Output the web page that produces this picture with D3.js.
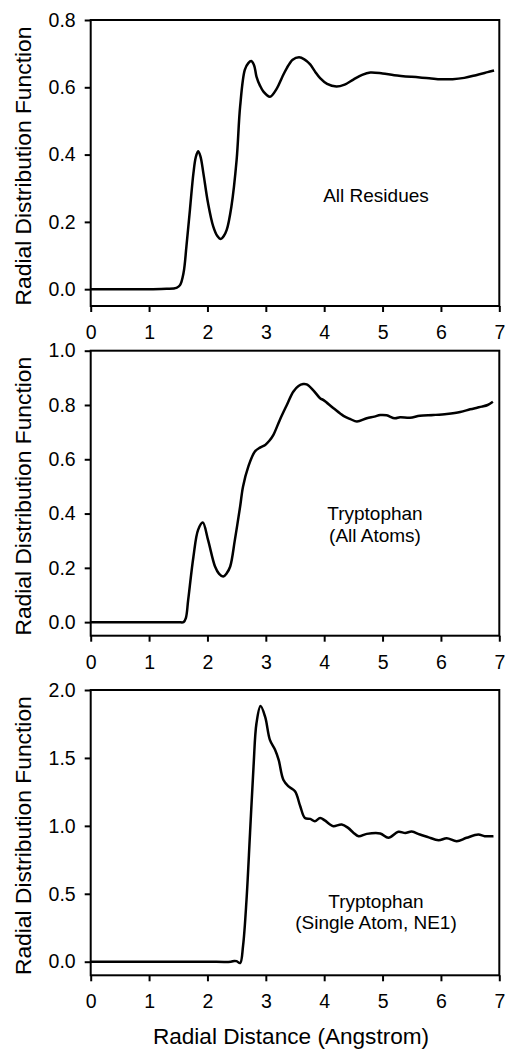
<!DOCTYPE html>
<html>
<head>
<meta charset="utf-8">
<script src="https://cdn.jsdelivr.net/npm/d3@7"></script>
<style>
  html, body { margin: 0; padding: 0; background: #fff; }
  svg { display: block; }
  text { font-family: "Liberation Sans", Arial, sans-serif; fill: #000; }
</style>
</head>
<body>
<svg id="chart" width="508" height="1051"></svg>
<script>
// ---------- Data ----------
const xTicks = [0, 1, 2, 3, 4, 5, 6, 7];
const yTitle = "Radial Distribution Function";
const xTitle = "Radial Distance (Angstrom)";

// Panel 1: All Residues
const allResX = [0, 0.5, 1.0, 1.3, 1.47, 1.53, 1.59, 1.64, 1.70, 1.76, 1.80, 1.84, 1.88, 1.93, 2.01, 2.10, 2.17, 2.23, 2.28, 2.33, 2.41, 2.50, 2.56, 2.64, 2.70, 2.75, 2.80, 2.84, 2.90, 2.96, 3.07, 3.19, 3.28, 3.36, 3.46, 3.57, 3.66, 3.76, 3.85, 3.93, 4.05, 4.21, 4.35, 4.50, 4.65, 4.79, 5.0, 5.2, 5.5, 5.8, 6.0, 6.2, 6.4, 6.6, 6.8, 6.91];
const allResY = [0, 0, 0, 0.001, 0.004, 0.012, 0.048, 0.127, 0.236, 0.345, 0.392, 0.410, 0.395, 0.345, 0.256, 0.186, 0.158, 0.149, 0.158, 0.176, 0.245, 0.384, 0.543, 0.652, 0.672, 0.678, 0.665, 0.632, 0.605, 0.587, 0.572, 0.597, 0.630, 0.657, 0.682, 0.689, 0.683, 0.668, 0.645, 0.627, 0.610, 0.602, 0.608, 0.623, 0.637, 0.644, 0.641, 0.636, 0.631, 0.627, 0.624, 0.624, 0.628, 0.636, 0.645, 0.650];

// Panel 2: Tryptophan (All Atoms)
const trpAllX = [0, 0.5, 1.0, 1.5, 1.59, 1.63, 1.67, 1.76, 1.84, 1.92, 2.01, 2.13, 2.20, 2.27, 2.33, 2.39, 2.47, 2.56, 2.61, 2.70, 2.81, 2.90, 2.99, 3.06, 3.13, 3.24, 3.36, 3.47, 3.56, 3.64, 3.70, 3.81, 3.93, 3.99, 4.16, 4.33, 4.45, 4.56, 4.73, 4.86, 4.96, 5.07, 5.21, 5.30, 5.47, 5.64, 5.87, 6.10, 6.33, 6.50, 6.62, 6.70, 6.80, 6.89];
const trpAllY = [0, 0, 0, 0, 0, 0.015, 0.082, 0.241, 0.340, 0.367, 0.303, 0.205, 0.178, 0.168, 0.180, 0.205, 0.303, 0.426, 0.500, 0.573, 0.628, 0.643, 0.653, 0.668, 0.690, 0.745, 0.800, 0.849, 0.870, 0.877, 0.876, 0.855, 0.825, 0.818, 0.788, 0.760, 0.748, 0.739, 0.751, 0.757, 0.763, 0.762, 0.751, 0.755, 0.753, 0.760, 0.763, 0.767, 0.774, 0.784, 0.790, 0.794, 0.800, 0.812];

// Panel 3: Tryptophan (Single Atom, NE1)
const trpNeX = [0, 0.5, 1.0, 1.5, 2.0, 2.40, 2.46, 2.50, 2.56, 2.61, 2.67, 2.73, 2.79, 2.84, 2.91, 2.99, 3.07, 3.16, 3.22, 3.30, 3.39, 3.50, 3.59, 3.67, 3.76, 3.84, 3.93, 4.01, 4.10, 4.16, 4.30, 4.41, 4.50, 4.59, 4.73, 4.96, 5.10, 5.27, 5.39, 5.50, 5.64, 5.78, 5.96, 6.10, 6.27, 6.44, 6.64, 6.75, 6.90];
const trpNeY = [0, 0, 0, 0, 0, 0, 0.006, 0.004, -0.010, 0.117, 0.460, 0.950, 1.440, 1.755, 1.882, 1.800, 1.633, 1.559, 1.486, 1.340, 1.290, 1.254, 1.144, 1.058, 1.051, 1.034, 1.058, 1.040, 1.010, 0.997, 1.010, 0.985, 0.950, 0.924, 0.941, 0.944, 0.912, 0.956, 0.948, 0.958, 0.936, 0.917, 0.894, 0.909, 0.887, 0.912, 0.936, 0.924, 0.924];

const panels = [
  { xs: allResX, ys: allResY, domain: [-0.05, 0.8], ticks: [0, 0.2, 0.4, 0.6, 0.8], fmt: ".1f",
    top: 20, bottom: 306, label: ["All Residues"], lx: 376, ly: [202] },
  { xs: trpAllX, ys: trpAllY, domain: [-0.05, 1.0], ticks: [0, 0.2, 0.4, 0.6, 0.8, 1.0], fmt: ".1f",
    top: 350.7, bottom: 635.7, label: ["Tryptophan", "(All Atoms)"], lx: 375, ly: [520, 542] },
  { xs: trpNeX, ys: trpNeY, domain: [-0.1, 2.0], ticks: [0, 0.5, 1.0, 1.5, 2.0], fmt: ".1f",
    top: 690, bottom: 975.3, label: ["Tryptophan", "(Single Atom, NE1)"], lx: 376, ly: [908, 929] }
];

// ---------- Drawing ----------
const svg = d3.select("#chart");
const left = 90.7, right = 499.3;
const x = d3.scaleLinear().domain([0, 7]).range([left, right]);

panels.forEach(p => {
  const y = d3.scaleLinear().domain(p.domain).range([p.bottom, p.top]);
  const g = svg.append("g");

  // frame
  g.append("rect")
    .attr("x", left).attr("y", p.top)
    .attr("width", right - left).attr("height", p.bottom - p.top)
    .attr("fill", "none").attr("stroke", "#000").attr("stroke-width", 2);

  // x axis
  const xa = g.append("g").attr("transform", `translate(0,${p.bottom})`)
    .call(d3.axisBottom(x).tickValues(xTicks).tickSize(6).tickPadding(13).tickFormat(d3.format("d")));
  // y axis
  const ya = g.append("g").attr("transform", `translate(${left},0)`)
    .call(d3.axisLeft(y).tickValues(p.ticks).tickSize(6).tickPadding(9).tickFormat(d3.format(p.fmt)));
  [xa, ya].forEach(a => {
    a.select(".domain").remove();
    a.selectAll(".tick line").attr("stroke", "#000").attr("stroke-width", 2);
    a.selectAll(".tick text").attr("font-size", 19.5).attr("font-family", "Liberation Sans, Arial, sans-serif").attr("fill", "#000");
  });

  // curve
  const data = p.xs.map((v, i) => [v, p.ys[i]]);
  g.append("path")
    .datum(data)
    .attr("fill", "none").attr("stroke", "#000").attr("stroke-width", 2.5)
    .attr("stroke-linejoin", "round")
    .attr("d", d3.line().x(d => x(d[0])).y(d => y(d[1])).curve(d3.curveCatmullRom.alpha(0.5)));

  // annotation
  p.label.forEach((t, i) => {
    g.append("text").attr("x", p.lx).attr("y", p.ly[i])
      .attr("text-anchor", "middle").attr("font-size", 19).text(t);
  });

  // y title
  g.append("text")
    .attr("transform", `translate(31,${(p.top + p.bottom) / 2 + 3}) rotate(-90)`)
    .attr("text-anchor", "middle").attr("font-size", 22.8).text(yTitle);
});

svg.append("text").attr("x", (left + right) / 2 - 4).attr("y", 1044)
  .attr("text-anchor", "middle").attr("font-size", 22.6).text(xTitle);
</script>
</body>
</html>
